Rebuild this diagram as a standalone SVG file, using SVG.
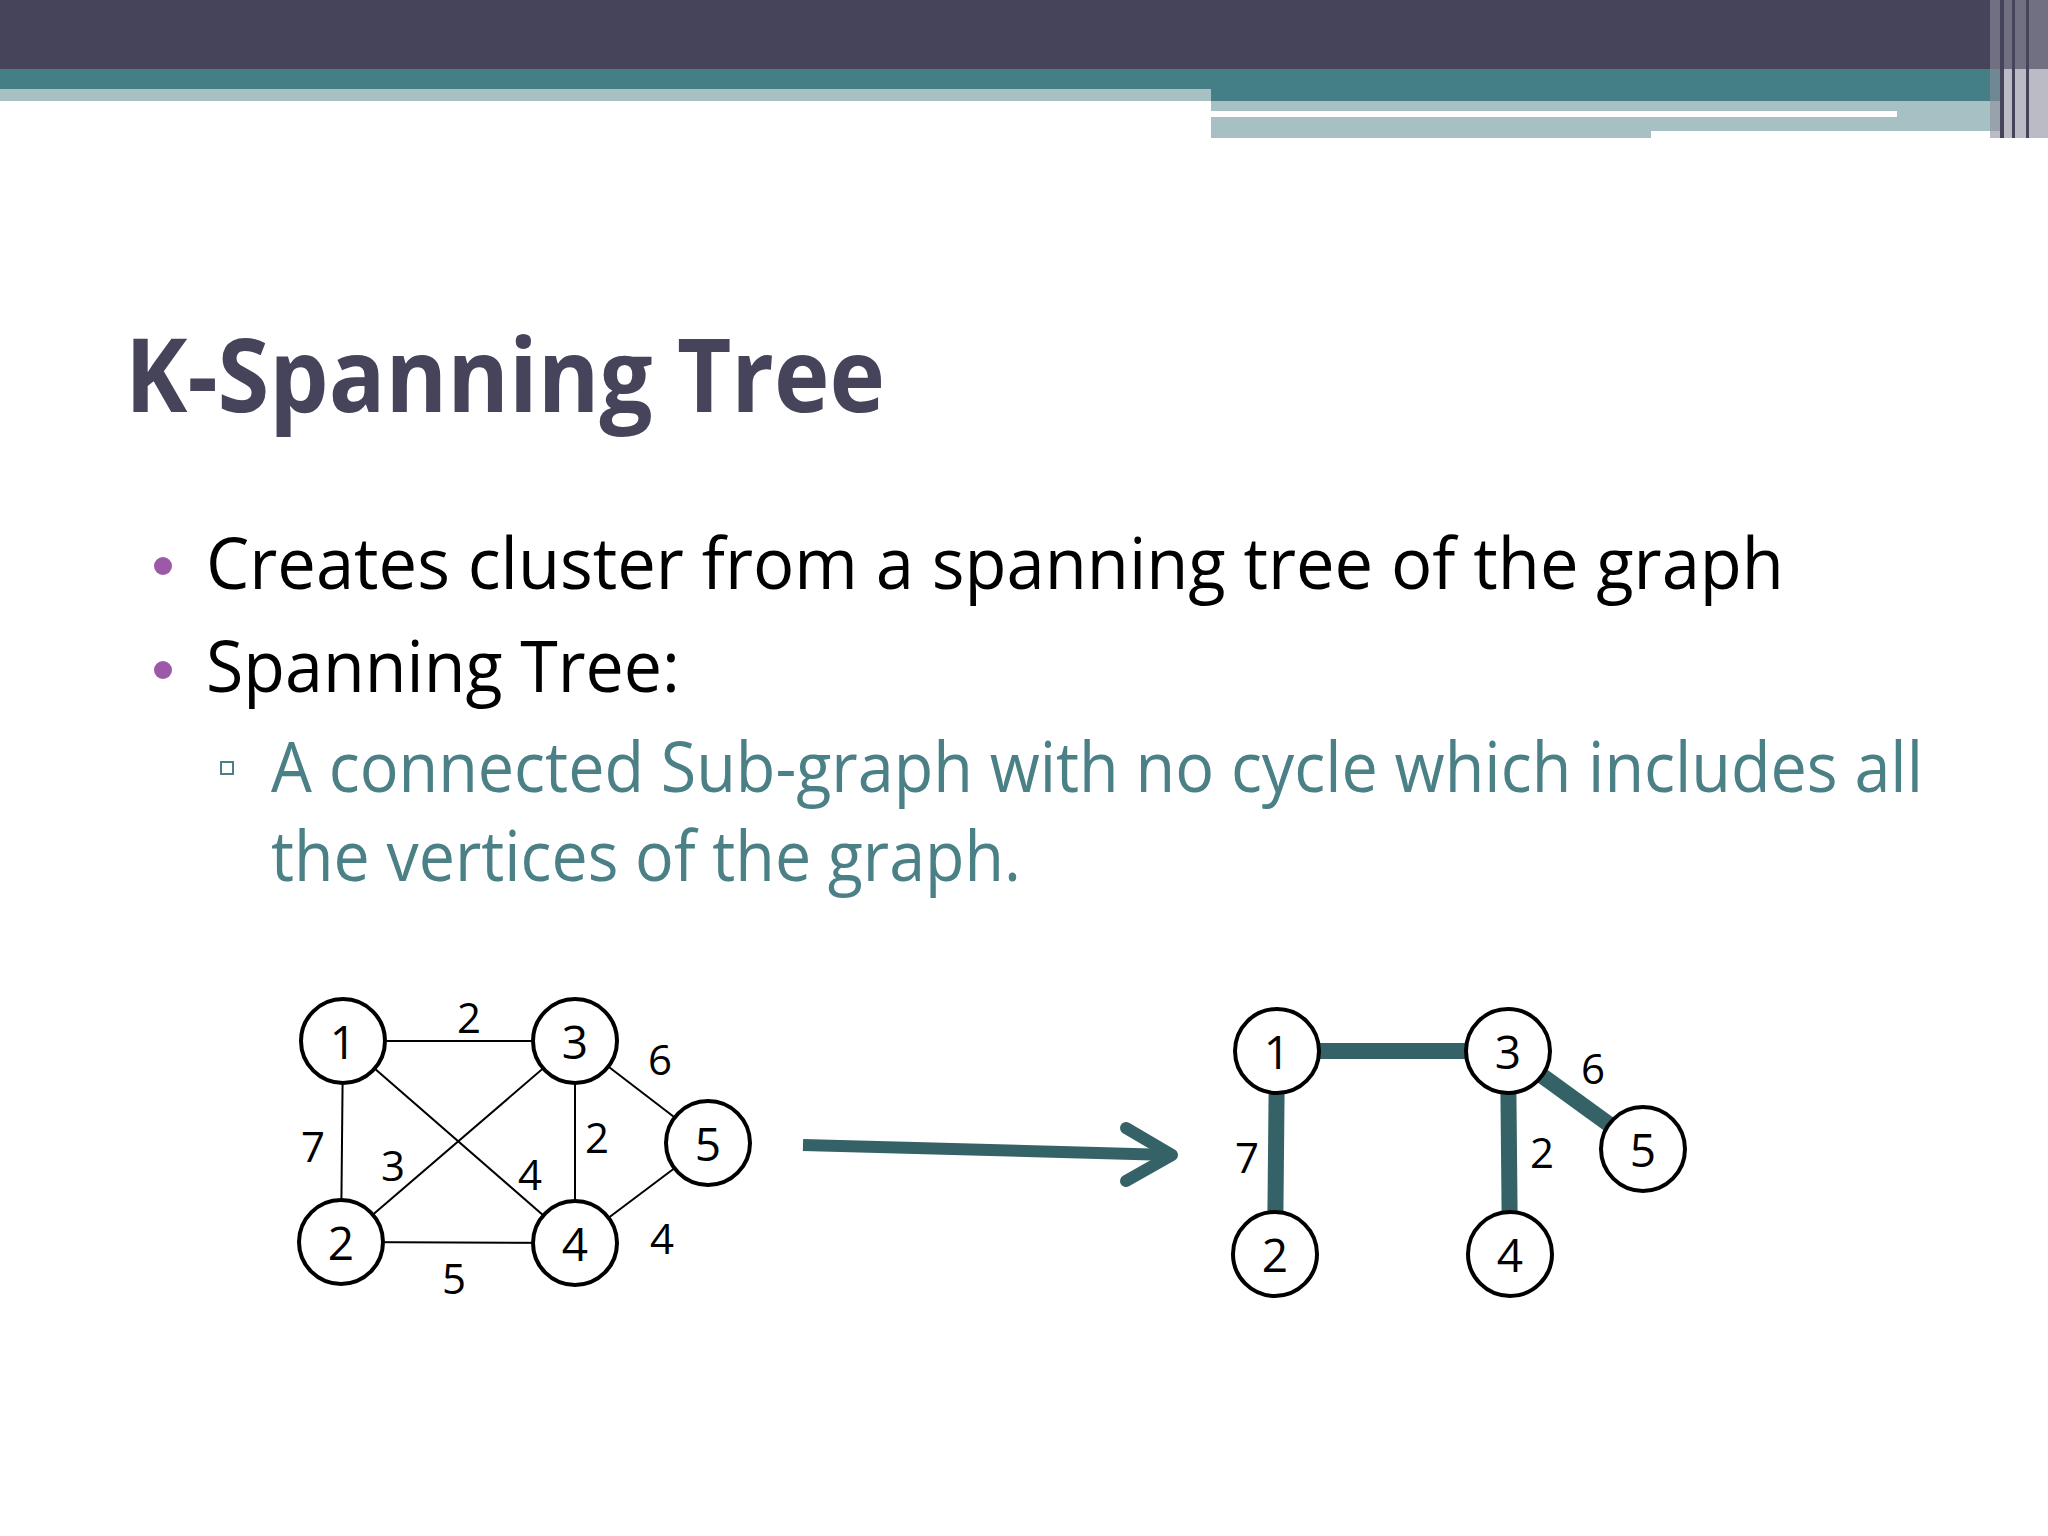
<svg xmlns="http://www.w3.org/2000/svg" width="2048" height="1536" viewBox="0 0 2048 1536">
<style>
.nd{fill:#fff;stroke:#000;stroke-width:4}
.nt{font-family:"Open Sans",sans-serif;font-size:46px;text-anchor:middle;dominant-baseline:central;fill:#000}
.el{font-family:"Open Sans",sans-serif;font-size:42px;text-anchor:middle;dominant-baseline:central;fill:#000}
.thin{stroke:#000;stroke-width:2}
.thick{stroke:#356266;stroke-width:16}
</style>
<rect width="2048" height="1536" fill="#fff"/>
<rect x="0" y="0" width="2048" height="69" fill="#46445a"/>
<rect x="0" y="69" width="1211" height="20" fill="#447f86"/>
<rect x="0" y="89" width="1211" height="12" fill="#a6c0c4"/>
<rect x="1211" y="69" width="790" height="32" fill="#447f86"/>
<rect x="1211" y="101" width="790" height="37" fill="#a6c0c4"/>
<rect x="1211" y="111" width="686" height="6" fill="#fff"/>
<rect x="1651" y="131" width="350" height="7" fill="#fff"/>
<rect x="1990" y="0" width="58" height="138" fill="#8e8d9e" opacity="0.6"/>
<rect x="2000" y="0" width="4" height="138" fill="#46445a"/>
<rect x="2012" y="0" width="3" height="138" fill="#46445a"/>
<rect x="2026" y="0" width="3" height="138" fill="#46445a"/>
<text x="125" y="412" font-family="Open Sans,sans-serif" font-weight="bold" font-size="102" fill="#46445a" textLength="760" lengthAdjust="spacingAndGlyphs">K-Spanning Tree</text>
<circle cx="163" cy="566" r="9" fill="#9b59a8"/>
<circle cx="163" cy="670" r="9" fill="#9b59a8"/>
<text x="206" y="589" font-family="Open Sans,sans-serif" font-size="72" fill="#000" textLength="1578" lengthAdjust="spacingAndGlyphs">Creates cluster from a spanning tree of the graph</text>
<text x="206" y="692" font-family="Open Sans,sans-serif" font-size="72" fill="#000" textLength="474" lengthAdjust="spacingAndGlyphs">Spanning Tree:</text>
<rect x="221" y="762" width="12" height="12" fill="none" stroke="#4a8086" stroke-width="2"/>
<text x="271" y="792" font-family="Open Sans,sans-serif" font-size="70" fill="#4a8086" textLength="1652" lengthAdjust="spacingAndGlyphs">A connected Sub-graph with no cycle which includes all</text>
<text x="271" y="881" font-family="Open Sans,sans-serif" font-size="70" fill="#4a8086" textLength="750" lengthAdjust="spacingAndGlyphs">the vertices of the graph.</text>
<g id="connectors">
<line class="thin" x1="343" y1="1041" x2="575" y2="1041"/>
<line class="thin" x1="343" y1="1041" x2="341" y2="1242"/>
<line class="thin" x1="575" y1="1041" x2="575" y2="1243"/>
<line class="thin" x1="341" y1="1242" x2="575" y2="1243"/>
<line class="thin" x1="343" y1="1041" x2="575" y2="1243"/>
<line class="thin" x1="575" y1="1041" x2="341" y2="1242"/>
<line class="thin" x1="575" y1="1041" x2="708" y2="1143"/>
<line class="thin" x1="575" y1="1243" x2="708" y2="1143"/>
<line class="thick" x1="1277" y1="1051" x2="1508" y2="1051"/>
<line class="thick" x1="1277" y1="1051" x2="1275" y2="1254"/>
<line class="thick" x1="1508" y1="1051" x2="1510" y2="1254"/>
<line class="thick" x1="1508" y1="1051" x2="1643" y2="1149"/>
<line x1="803" y1="1145" x2="1170" y2="1155" stroke="#356266" stroke-width="12"/>
<polyline points="1126,1128 1172,1155 1126,1181" fill="none" stroke="#356266" stroke-width="12" stroke-linecap="round" stroke-linejoin="round"/>
</g>
<g id="edge-labels">
<text class="el" x="469" y="1016">2</text>
<text class="el" x="660" y="1058">6</text>
<text class="el" x="313" y="1145">7</text>
<text class="el" x="393" y="1164">3</text>
<text class="el" x="597" y="1136">2</text>
<text class="el" x="530" y="1173">4</text>
<text class="el" x="662" y="1237">4</text>
<text class="el" x="454" y="1277">5</text>
<text class="el" x="1593" y="1067">6</text>
<text class="el" x="1247" y="1156">7</text>
<text class="el" x="1542" y="1151">2</text>
</g>
<g id="L1"><circle class="nd" cx="343" cy="1041" r="42"/><text class="nt" x="343" y="1041">1</text></g>
<g id="L3"><circle class="nd" cx="575" cy="1041" r="42"/><text class="nt" x="575" y="1041">3</text></g>
<g id="L5"><circle class="nd" cx="708" cy="1143" r="42"/><text class="nt" x="708" y="1143">5</text></g>
<g id="L2"><circle class="nd" cx="341" cy="1242" r="42"/><text class="nt" x="341" y="1242">2</text></g>
<g id="L4"><circle class="nd" cx="575" cy="1243" r="42"/><text class="nt" x="575" y="1243">4</text></g>
<g id="R1"><circle class="nd" cx="1277" cy="1051" r="42"/><text class="nt" x="1277" y="1051">1</text></g>
<g id="R3"><circle class="nd" cx="1508" cy="1051" r="42"/><text class="nt" x="1508" y="1051">3</text></g>
<g id="R5"><circle class="nd" cx="1643" cy="1149" r="42"/><text class="nt" x="1643" y="1149">5</text></g>
<g id="R2"><circle class="nd" cx="1275" cy="1254" r="42"/><text class="nt" x="1275" y="1254">2</text></g>
<g id="R4"><circle class="nd" cx="1510" cy="1254" r="42"/><text class="nt" x="1510" y="1254">4</text></g>
</svg>
